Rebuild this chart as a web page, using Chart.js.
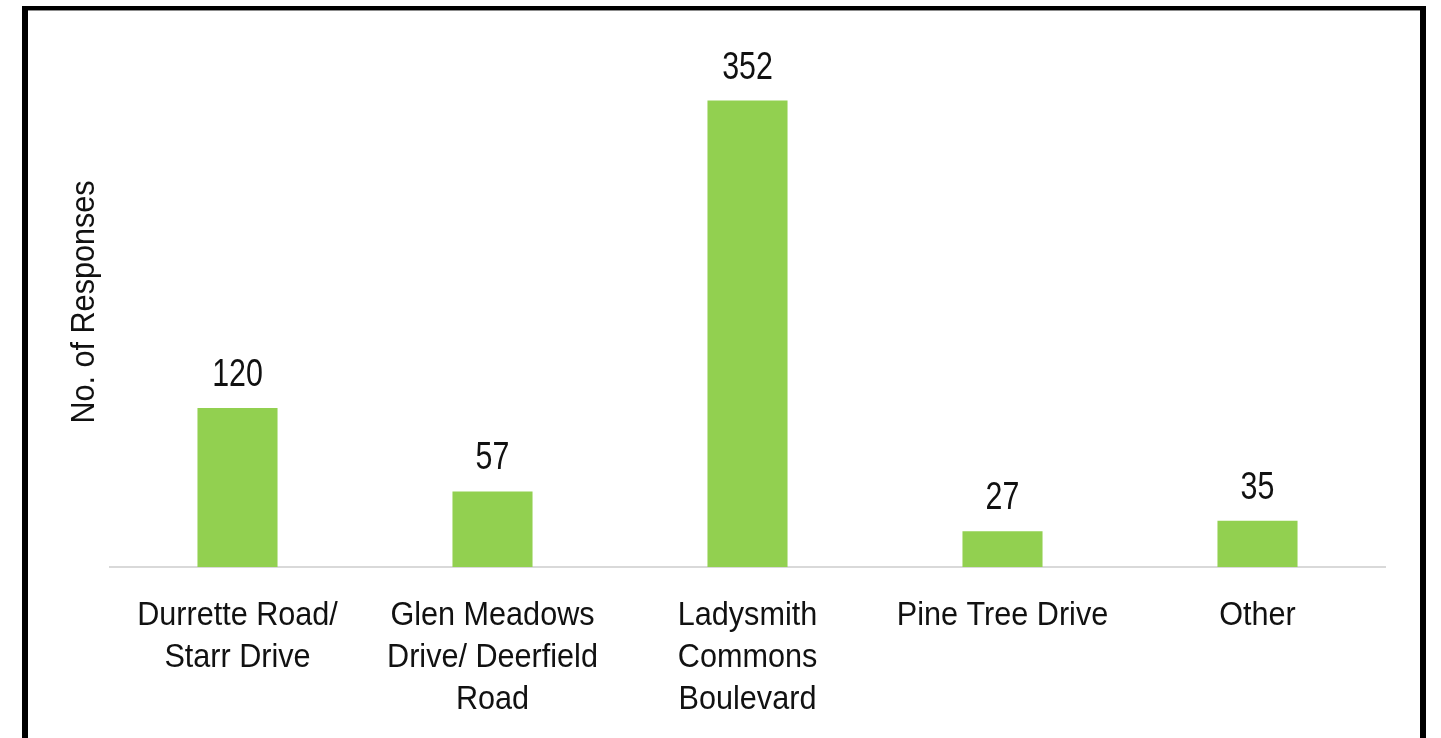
<!DOCTYPE html>
<html>
<head>
<meta charset="utf-8">
<script src="https://cdn.jsdelivr.net/npm/chart.js@4/dist/chart.umd.min.js"></script>
<style>
  html, body { margin: 0; padding: 0; background: #fff; }
  #wrap { position: relative; width: 1441px; height: 738px; overflow: hidden; }
  #frame {
    position: absolute; left: 22px; top: 6px; width: 1392px; height: 760px;
    border-top: 4px solid #000; border-left: 6px solid #000; border-right: 6px solid #000;
    box-shadow: inset 0 1px 0 #8c8c8c;
  }
  canvas { position: absolute; left: 0; top: 0; }
</style>
</head>
<body>
<div id="wrap">
  <div id="frame"></div>
  <canvas id="chart" width="1441" height="738"></canvas>
</div>
<script>
const streets = [
  ["Durrette Road/", "Starr Drive"],
  ["Glen Meadows", "Drive/ Deerfield", "Road"],
  ["Ladysmith", "Commons", "Boulevard"],
  ["Pine Tree Drive"],
  ["Other"]
];
const responses = [120, 57, 352, 27, 35];
const yMax = 400;
const yTitle = "No. of Responses";

const FONT = '"Liberation Sans", Arial, sans-serif';
const INK = "#111";

// no narrow face installed, so squeeze the regular one horizontally
function narrowText(ctx, text, x, y, squeeze, angle) {
  ctx.save();
  ctx.translate(x, y);
  if (angle) ctx.rotate(angle);
  ctx.scale(squeeze, 1);
  ctx.fillText(text, 0, 0);
  ctx.restore();
}

// values above bars, category names under the axis, rotated y title
const labelsPlugin = {
  id: "narrowLabels",
  afterDatasetsDraw(chart) {
    const ctx = chart.ctx;
    const area = chart.chartArea;
    const xScale = chart.scales.x;
    const meta = chart.getDatasetMeta(0);
    ctx.save();
    ctx.fillStyle = INK;
    ctx.textAlign = "center";
    ctx.textBaseline = "alphabetic";

    ctx.font = "38px " + FONT;
    meta.data.forEach((bar, i) => {
      narrowText(ctx, String(responses[i]), bar.x, bar.y - 22, 0.8);
    });

    ctx.font = "34px " + FONT;
    streets.forEach((lines, i) => {
      const x = xScale.getPixelForTick(i);
      lines.forEach((line, j) => {
        narrowText(ctx, line, x, xScale.top + 58 + j * 42, 0.9);
      });
    });

    ctx.textBaseline = "middle";
    narrowText(ctx, yTitle, 85, (area.top + area.bottom) / 2, 0.9, -Math.PI / 2);
    ctx.restore();
  }
};

new Chart(document.getElementById("chart"), {
  type: "bar",
  data: {
    labels: streets,
    datasets: [
      {
        label: yTitle,
        data: responses,
        backgroundColor: "#92d050",
        categoryPercentage: 1,
        barPercentage: 0.314
      }
    ]
  },
  options: {
    responsive: false,
    devicePixelRatio: 1,
    animation: false,
    layout: { padding: { top: 37, right: 56, bottom: 0, left: 0 } },
    plugins: {
      legend: { display: false },
      tooltip: { enabled: false }
    },
    scales: {
      x: {
        grid: { display: false },
        border: { display: true, color: "#d9d9d9", width: 2 },
        ticks: { display: false },
        afterFit(scale) { scale.height = 171; }
      },
      y: {
        min: 0,
        max: yMax,
        grid: { display: false },
        border: { display: false },
        ticks: { display: false },
        afterFit(scale) { scale.width = 110; }
      }
    }
  },
  plugins: [labelsPlugin]
});
</script>
</body>
</html>
